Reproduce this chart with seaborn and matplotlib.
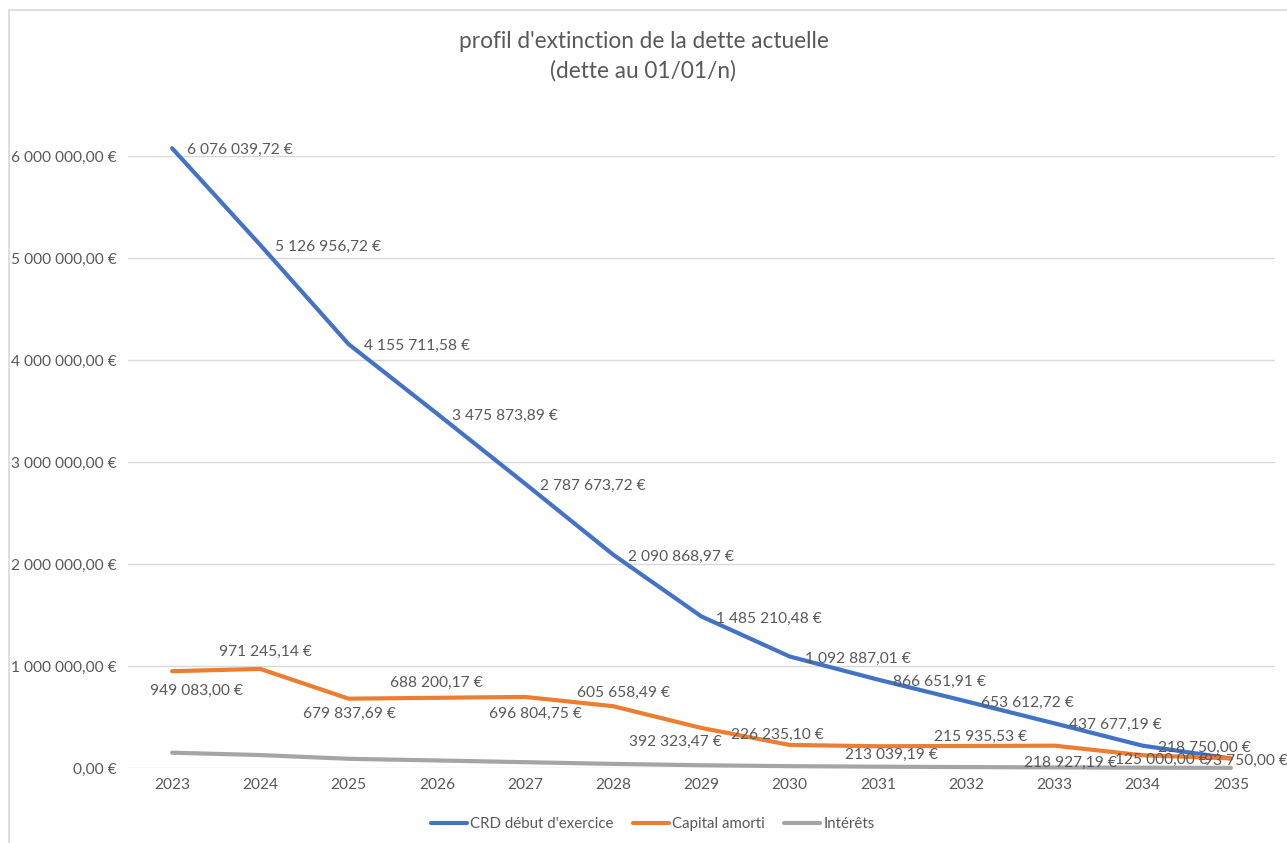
import matplotlib
matplotlib.use("Agg")
import matplotlib.pyplot as plt
from matplotlib.patches import Rectangle
from matplotlib.lines import Line2D
import seaborn as sns
import pandas as pd

years = [2023, 2024, 2025, 2026, 2027, 2028, 2029, 2030, 2031, 2032, 2033, 2034, 2035]
crd = [6076039.72, 5126956.72, 4155711.58, 3475873.89, 2787673.72, 2090868.97,
       1485210.48, 1092887.01, 866651.91, 653612.72, 437677.19, 218750.00, 93750.00]
capital = [949083.00, 971245.14, 679837.69, 688200.17, 696804.75, 605658.49,
           392323.47, 226235.10, 213039.19, 215935.53, 218927.19, 125000.00, 93750.00]
interets = [150000, 127000, 90000, 74000, 57000, 40000, 27000, 18000, 13000, 9000, 6000, 3500, 1500]
series_names = ["CRD début d'exercice", "Capital amorti", "Intérêts"]
y_ticks = [0, 1000000, 2000000, 3000000, 4000000, 5000000, 6000000]
title_lines = ["profil d'extinction de la dette actuelle", "(dette au 01/01/n)"]

colors = ["#4472C4", "#ED7D31", "#A5A5A5"]
text_col = "#595959"
grid_col = "#D9D9D9"
fs = 11.2

sns.set_theme(style="white")
plt.rcParams["font.family"] = ["Lato", "DejaVu Sans"]

df = pd.DataFrame({
    "year": years * 3,
    "value": crd + capital + interets,
    "serie": [series_names[0]] * len(years) + [series_names[1]] * len(years) + [series_names[2]] * len(years),
})

fig = plt.figure(figsize=(12.87, 8.43), dpi=100)
ax = fig.add_axes([128 / 1287, 1 - 768 / 843, 1147 / 1287, (768 - 156) / 843])

sns.lineplot(data=df, x="year", y="value", hue="serie", hue_order=series_names,
             palette=colors, linewidth=3, ax=ax, legend=False, sort=False)
for ln in ax.get_lines():
    ln.set_clip_on(False)
    ln.set_solid_capstyle("round")
    ln.set_solid_joinstyle("round")

ax.set_xlim(years[0] - 0.5, years[-1] + 0.5)
ax.set_ylim(0, 6000000)
for s in ax.spines.values():
    s.set_visible(False)
ax.set_yticks(y_ticks)


def fmt(v):
    return f"{v:,.2f}".replace(",", " ").replace(".", ",") + " €"


ax.set_yticklabels([fmt(v) for v in y_ticks])
ax.set_xticks(years)
ax.set_xticklabels([str(y) for y in years])
ax.tick_params(axis="y", length=0, pad=8, labelsize=fs, labelcolor=text_col)
ax.tick_params(axis="x", length=0, pad=7, labelsize=fs, labelcolor=text_col)
ax.yaxis.grid(True, color=grid_col, linewidth=1)
ax.xaxis.grid(False)
ax.set_xlabel("")
ax.set_ylabel("")

# blue labels: right of points
for i, (x, v) in enumerate(zip(years, crd)):
    if i == len(years) - 1:
        continue
    ax.annotate(fmt(v), (x, v), xytext=(15, -2), textcoords="offset pixels",
                ha="left", va="center", fontsize=fs, color=text_col, annotation_clip=False)

# orange labels: alternating below / above
orange_offsets = [(24, -20), (5, 17), (1, -15), (0, 15), (10, -17), (10, 13), (-26, -14),
                  (-12, 10), (13, -9), (14, 9), (16, -17), (19, -5), (15, -2)]
for (x, v), (dx, dy) in zip(zip(years, capital), orange_offsets):
    ax.annotate(fmt(v), (x, v), xytext=(dx, dy), textcoords="offset pixels",
                ha="center", va="center", fontsize=fs, color=text_col, annotation_clip=False)

fig.text(0.5, 1 - 42 / 843, title_lines[0], ha="center", va="center", fontsize=16.3, color=text_col)
fig.text(0.5, 1 - 71 / 843, title_lines[1], ha="center", va="center", fontsize=16.3, color=text_col)

handles = [Line2D([0], [0], color=c, lw=3) for c in colors]
fig.legend(handles, series_names, loc="center", bbox_to_anchor=(653 / 1287, 1 - 824 / 843),
           ncol=3, frameon=False, fontsize=10.8, labelcolor=text_col, handlelength=2.4,
           handletextpad=0.2, columnspacing=1.3)

fig.patches.append(Rectangle((9 / 1287, -0.1), 1.2, 1.1 - 10 / 843, transform=fig.transFigure,
                             fill=False, edgecolor=grid_col, linewidth=1.2))

fig.savefig("out.png", dpi=100)
